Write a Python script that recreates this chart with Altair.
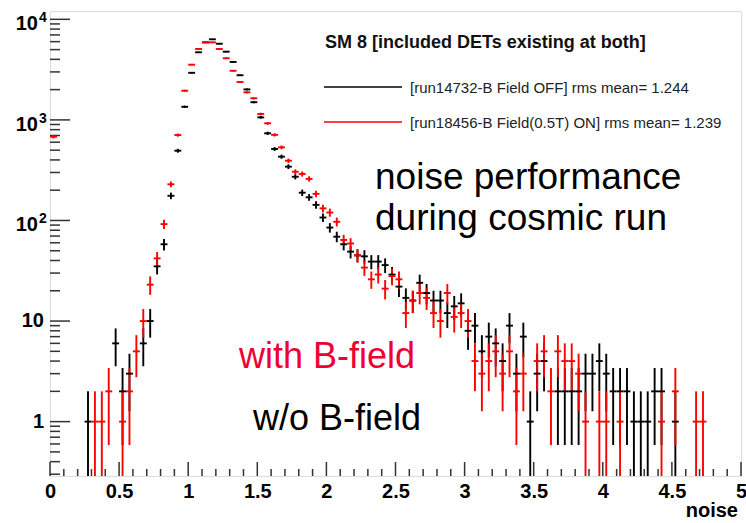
import altair as alt
import pandas as pd
import numpy as np

# ---- data (counts per 0.05-wide bin of "noise", bins 0..99 covering 0..5) ----
bin_width = 0.05
counts_off = [
    0, 0, 0, 0, 0, 1, 0, 0, 0, 6,
    2, 3, 0, 6, 10, 35, 58, 176, 494, 1350,
    2940, 4700, 5900, 6330, 5720, 4770, 3770, 2780, 2010, 1500,
    1060, 736, 514, 431, 343, 272, 189, 170, 143, 107,
    85, 69, 58, 49, 45, 44, 39, 39, 36, 29,
    22, 17, 16, 24, 19, 16, 16, 12, 14, 15,
    8, 9, 5, 7, 6, 4, 9, 3, 7, 1,
    3, 4, 0, 2, 2, 2, 2, 3, 3, 4,
    3, 2, 2, 2, 1, 1, 1, 2, 2, 0,
    1, 0, 0, 0, 0, 0, 0, 0, 0, 0,
]
counts_on = [
    680, 0, 0, 0, 0, 0, 1, 1, 2, 0,
    1, 2, 5, 10, 23, 42, 92, 229, 707, 1950,
    3540, 5070, 5900, 5900, 5070, 4100, 3080, 2380, 1880, 1640,
    1145, 925, 710, 534, 393, 305, 290, 259, 184, 132,
    120, 97, 64, 59, 45, 34, 26, 29, 21, 28,
    26, 12, 16, 19, 17, 12, 10, 19, 11, 12,
    10, 4, 3, 4, 5, 3, 5, 2, 3, 0,
    4, 5, 2, 5, 4, 4, 3, 1, 0, 1,
    1, 0, 1, 0, 0, 0, 0, 0, 1, 0,
    2, 0, 0, 1, 1, 0, 0, 0, 0, 0,
]
series_names = ["off", "on"]
series_colors = ["#000000", "#ff0000"]

legend_title = "SM 8 [included DETs existing at both]"
legend_labels = [
    "[run14732-B Field OFF] rms mean= 1.244",
    "[run18456-B Field(0.5T) ON] rms mean= 1.239",
]

x_major = [0, 0.5, 1, 1.5, 2, 2.5, 3, 3.5, 4, 4.5, 5]
y_major = [1, 10, 100, 1000, 10000]
y_base = ["1", "10", "10", "10", "10"]
y_exp = ["", "", "2", "3", "4"]

# ---- build table ----
rows = []
for name, counts in zip(series_names, [counts_off, counts_on]):
    for i, n in enumerate(counts):
        if n <= 0:
            continue
        c = (i + 0.5) * bin_width
        e = np.sqrt(n)
        rows.append(dict(series=name, center=c, left=c - bin_width / 2,
                         right=c + bin_width / 2, count=n,
                         lo=max(n - e, 0.01), hi=n + e))
df = pd.DataFrame(rows)

xs = alt.Scale(domain=[0, 5], nice=False, zero=False)
ys = alt.Scale(type="log", domain=[0.288, 12100], nice=False)
col = alt.Color("series:N", scale=alt.Scale(domain=series_names, range=series_colors), legend=None)

x_axis = alt.Axis(values=x_major, format="~g", labelFont="Liberation Sans", labelFontSize=20,
                  labelFontWeight="bold", labelColor="#000", labelPadding=5, labelBaseline="top",
                  ticks=False, domain=False, grid=False, title=None, labelOverlap=False,
                  labelFlush=False)

base = alt.Chart(df)
vbars = base.mark_rule(strokeWidth=1.9, clip=True).encode(
    x=alt.X("center:Q", scale=xs, axis=x_axis),
    y=alt.Y("lo:Q", scale=ys, axis=None),
    y2="hi:Q",
    color=col,
)
hbars = base.mark_rule(strokeWidth=1.9, clip=True).encode(
    x=alt.X("left:Q", scale=xs, axis=x_axis),
    x2="right:Q",
    y=alt.Y("count:Q", scale=ys, axis=None),
    color=col,
)

# ---- ticks (ROOT style, inside the frame) ----
x_minor = [round(v, 2) for v in np.arange(0, 5.001, 0.1) if round(v * 2, 3) % 1 != 0]
y_minor = [m * 10.0 ** k for k in range(-1, 5) for m in range(2, 10)]
y_minor = [v for v in y_minor if 0.288 <= v <= 12100]

H = 465
xt_major = alt.Chart(pd.DataFrame({"v": x_major})).mark_rule(color="#333", strokeWidth=1.5).encode(
    x=alt.X("v:Q", scale=xs, axis=x_axis), y=alt.value(H), y2=alt.value(H - 14))
xt_minor = alt.Chart(pd.DataFrame({"v": x_minor})).mark_rule(color="#333", strokeWidth=1.5).encode(
    x=alt.X("v:Q", scale=xs, axis=x_axis), y=alt.value(H), y2=alt.value(H - 7))
yt_major = alt.Chart(pd.DataFrame({"v": y_major})).mark_rule(color="#333", strokeWidth=1.5).encode(
    y=alt.Y("v:Q", scale=ys, axis=None), x=alt.value(0), x2=alt.value(20))
yt_minor = alt.Chart(pd.DataFrame({"v": y_minor})).mark_rule(color="#333", strokeWidth=1.5).encode(
    y=alt.Y("v:Q", scale=ys, axis=None), x=alt.value(0), x2=alt.value(10))

# ---- y tick labels with superscripts ----
ydf = pd.DataFrame({"v": y_major, "b": y_base, "e": y_exp})
ylab_plain = alt.Chart(ydf).transform_filter("datum.e == ''").mark_text(
    align="right", baseline="middle", font="Liberation Sans", fontSize=20, fontWeight="bold",
    color="#000").encode(y=alt.Y("v:Q", scale=ys, axis=None), x=alt.value(-6), text="b:N")
ylab_base = alt.Chart(ydf).transform_filter("datum.e != ''").mark_text(
    align="right", baseline="middle", font="Liberation Sans", fontSize=20, fontWeight="bold",
    color="#000", dy=5).encode(y=alt.Y("v:Q", scale=ys, axis=None), x=alt.value(-12), text="b:N")
ylab_exp = alt.Chart(ydf).transform_filter("datum.e != ''").mark_text(
    align="left", baseline="middle", font="Liberation Sans", fontSize=14, fontWeight="bold",
    color="#000", dy=-1).encode(y=alt.Y("v:Q", scale=ys, axis=None), x=alt.value(-11), text="e:N")

one = pd.DataFrame({"a": [0]})


def txt(s, x, y, size, color="#000", weight="normal", align="left", baseline="alphabetic"):
    return alt.Chart(one).mark_text(
        align=align, baseline=baseline, font="Liberation Sans", fontSize=size,
        fontWeight=weight, color=color).encode(x=alt.value(x), y=alt.value(y), text=alt.value(s))


def hline(x1, x2, y, color):
    return alt.Chart(one).mark_rule(color=color, strokeWidth=1.6).encode(
        x=alt.value(x1), x2=alt.value(x2), y=alt.value(y))


legend = [
    txt(legend_title, 275, 37, 18, weight="bold", color="#111"),
    hline(274, 352, 76, series_colors[0]),
    hline(274, 352, 111, series_colors[1]),
    txt(legend_labels[0], 360, 77, 15, color="#222", baseline="middle"),
    txt(legend_labels[1], 360, 112, 15, color="#222", baseline="middle"),
]
notes = [
    txt("noise performance", 325, 178, 37),
    txt("during cosmic run", 325, 219, 37),
    txt("with B-field", 189, 357, 36, color="#ee0033"),
    txt("w/o B-field", 203, 419, 36),
    txt("noise", 688, 506, 20, weight="bold", align="right"),
]

chart = alt.layer(
    xt_minor, xt_major, yt_minor, yt_major,
    vbars, hbars,
    ylab_plain, ylab_base, ylab_exp,
    *legend, *notes,
).properties(
    width=691, height=465,
    autosize=alt.AutoSizeParams(type="none"),
    padding={"left": 50, "top": 11, "right": 5, "bottom": 47},
).configure_view(stroke="#444", strokeWidth=2).configure(background="white")

chart.save("out.html", embed_options={"renderer": "svg", "actions": False})
